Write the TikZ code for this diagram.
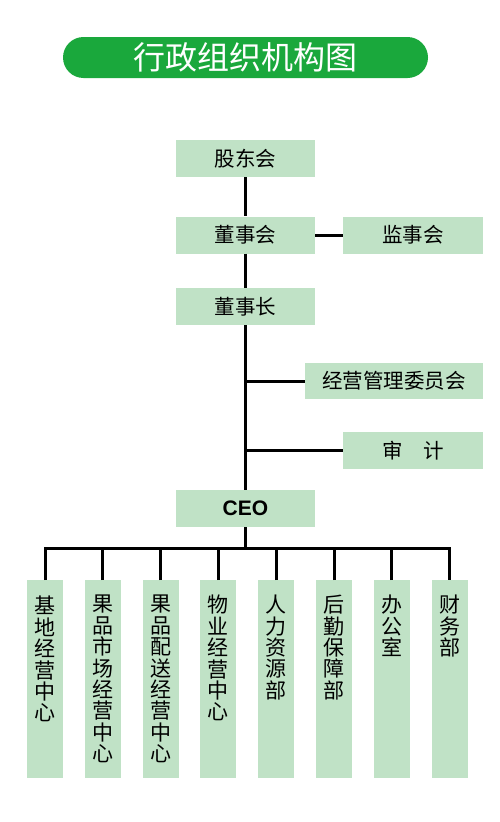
\documentclass[tikz,border=0pt]{standalone}
\usepackage{fontspec}
\setmainfont{Noto Sans CJK SC}
\newfontfamily\ceofont{Liberation Sans}
\definecolor{titlegreen}{HTML}{1AA83C}
\definecolor{boxgreen}{HTML}{C0E2C6}
\begin{document}
\begin{tikzpicture}[x=1pt,y=-1pt,
  hbox/.style={fill=boxgreen, draw=none, minimum height=37pt, inner sep=0pt,
    font=\fontsize{20.5}{24}\selectfont, text=black},
  vbox/.style={fill=boxgreen, draw=none, anchor=north, minimum width=36pt,
    minimum height=198pt, inner sep=0pt},
  vtext/.style={anchor=north, align=center, inner sep=0pt,
    font=\fontsize{21}{21.4}\selectfont, text=black},
  conn/.style={line width=3pt, black, line join=miter}]
\useasboundingbox (0,0) rectangle (500,822);
\fill[white] (0,0) rectangle (500,822);
% title
\node[fill=titlegreen, rounded corners=20.5pt, minimum width=365pt, minimum height=41pt,
  inner sep=0pt, text=white, font=\fontsize{32}{36}\selectfont] (title) at (245.5,57.5) {行政组织机构图};
% top boxes
\node[hbox, minimum width=139pt] (gd) at (245.5,158.5) {股东会};
\node[hbox, minimum width=139pt] (dsh) at (245.5,235) {董事会};
\node[hbox, minimum width=140pt] (jsh) at (413,235) {监事会};
\node[hbox, minimum width=139pt] (dsz) at (245.5,306.5) {董事长};
\node[hbox, minimum width=178pt, minimum height=36pt] (jy) at (394,381) {经营管理委员会};
\node[hbox, minimum width=140pt] (sj) at (413,450.5) {审\hspace{1em}计};
\node[hbox, minimum width=139pt, font=\ceofont\bfseries\fontsize{21}{24}\selectfont] (ceo) at (245.5,508.5) {CEO};
% bottom boxes
\node[vbox] (b1) at (45,580) {};
\node[vbox] (b2) at (102.8,580) {};
\node[vbox] (b3) at (160.6,580) {};
\node[vbox] (b4) at (218.4,580) {};
\node[vbox] (b5) at (276.2,580) {};
\node[vbox] (b6) at (334,580) {};
\node[vbox] (b7) at (391.8,580) {};
\node[vbox] (b8) at (449.6,580) {};
\node[vtext] (t1) at ([yshift=-16pt]b1.north) {基\\地\\经\\营\\中\\心};
\node[vtext] (t2) at ([yshift=-15pt]b2.north) {果\\品\\市\\场\\经\\营\\中\\心};
\node[vtext] (t3) at ([yshift=-15pt]b3.north) {果\\品\\配\\送\\经\\营\\中\\心};
\node[vtext] (t4) at ([yshift=-15pt]b4.north) {物\\业\\经\\营\\中\\心};
\node[vtext] (t5) at ([yshift=-15pt]b5.north) {人\\力\\资\\源\\部};
\node[vtext] (t6) at ([yshift=-15pt]b6.north) {后\\勤\\保\\障\\部};
\node[vtext] (t7) at ([yshift=-15pt]b7.north) {办\\公\\室};
\node[vtext] (t8) at ([yshift=-15pt]b8.north) {财\\务\\部};
% connectors
\coordinate (bus) at (245.5,548);
\draw[conn] (gd.south) -- (dsh.north);
\draw[conn] (dsh.east) -- (jsh.west);
\draw[conn] (dsh.south) -- (dsz.north);
\draw[conn] (dsz.south) -- (ceo.north);
\draw[conn] (jy.west) -- (jy.west -| dsz.south);
\draw[conn] (sj.west) -- (sj.west -| dsz.south);
\draw[conn] (ceo.south) -- (bus);
\draw[conn] (b1.north) -- (b1.north |- bus) -- (b8.north |- bus) -- (b8.north);
\foreach \i in {2,...,7} {\draw[conn] (b\i.north) -- (b\i.north |- bus);}
\end{tikzpicture}
\end{document}
